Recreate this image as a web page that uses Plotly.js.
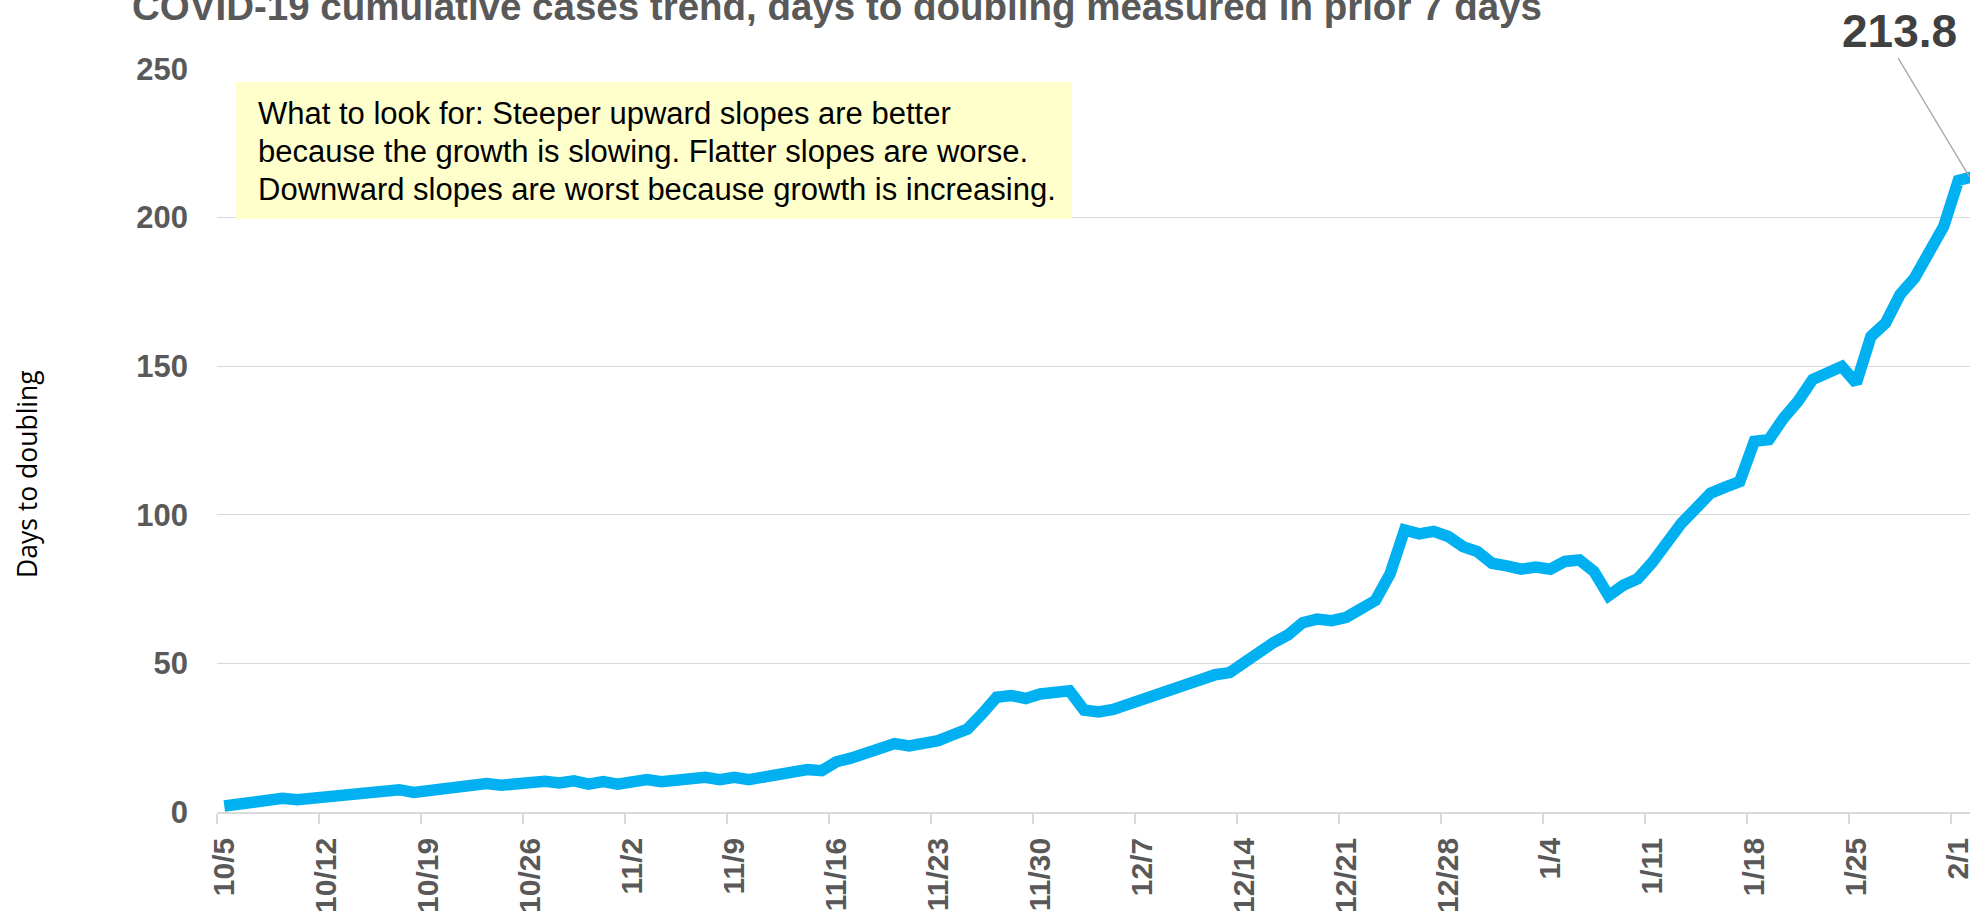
<!DOCTYPE html>
<html>
<head>
<meta charset="utf-8">
<script src="https://cdn.plot.ly/plotly-3.0.1.min.js"></script>
<style>
  html, body { margin: 0; padding: 0; background: #ffffff; overflow: hidden; }
  #chart { width: 1970px; height: 913px; }
</style>
</head>
<body>
<div id="chart"></div>
<script>
// ---- Data ----
const dates = [
  "10/5","10/6","10/7","10/8","10/9","10/10","10/11","10/12","10/13","10/14","10/15","10/16","10/17","10/18","10/19","10/20","10/21","10/22","10/23","10/24","10/25","10/26","10/27","10/28","10/29","10/30","10/31",
  "11/1","11/2","11/3","11/4","11/5","11/6","11/7","11/8","11/9","11/10","11/11","11/12","11/13","11/14","11/15","11/16","11/17","11/18","11/19","11/20","11/21","11/22","11/23","11/24","11/25","11/26","11/27","11/28","11/29","11/30",
  "12/1","12/2","12/3","12/4","12/5","12/6","12/7","12/8","12/9","12/10","12/11","12/12","12/13","12/14","12/15","12/16","12/17","12/18","12/19","12/20","12/21","12/22","12/23","12/24","12/25","12/26","12/27","12/28","12/29","12/30","12/31",
  "1/1","1/2","1/3","1/4","1/5","1/6","1/7","1/8","1/9","1/10","1/11","1/12","1/13","1/14","1/15","1/16","1/17","1/18","1/19","1/20","1/21","1/22","1/23","1/24","1/25","1/26","1/27","1/28","1/29","1/30","1/31",
  "2/1","2/2"
];

const daysToDoubling = [
  2.0, 2.6, 3.2, 3.8, 4.6, 4.1, 4.6, 5.2, 5.9, 5.6,
  6.4, 6.9, 7.5, 6.6, 7.2, 8.0, 8.4, 8.9, 9.6, 9.0,
  9.7, 9.9, 10.3, 9.8, 10.5, 9.4, 10.2, 9.4, 10.0, 10.9,
  10.2, 10.6, 11.1, 11.7, 10.9, 11.7, 10.9, 11.9, 12.6, 13.2,
  14.3, 13.9, 16.9, 18.1, 19.5, 21.2, 23.0, 22.2, 22.8, 24.0,
  26.0, 27.9, 33.0, 38.6, 39.2, 38.2, 39.7, 40.3, 40.8, 34.3,
  33.7, 34.5, 36.2, 38.2, 39.9, 41.2, 43.5, 45.0, 46.2, 46.9,
  50.3, 54.0, 57.0, 59.6, 63.7, 64.9, 64.4, 65.5, 68.0, 71.2,
  80.1, 94.9, 93.6, 94.4, 92.7, 89.3, 87.6, 83.7, 82.8, 81.7,
  82.4, 81.7, 84.3, 84.8, 80.9, 72.8, 76.3, 78.5, 84.0, 91.0,
  97.2, 102.2, 107.3, 109.3, 111.2, 124.7, 125.3, 132.5, 138.2, 145.5,
  147.7, 149.9, 144.3, 160.0, 164.5, 174.1, 179.7, 187.5, 197.1, 212.5,
  213.8
];

const yTickVals = [0, 50, 100, 150, 200, 250];

const chartTitle = "COVID-19 cumulative cases trend, days to doubling measured in prior 7 days";
const yTitle = "Days to doubling";
const noteLines = [
  "What to look for: Steeper upward slopes are better",
  "because the growth is slowing. Flatter slopes are worse.",
  "Downward slopes are worst because growth is increasing."
];
const lastIndex = daysToDoubling.length - 1;
const lastLabel = daysToDoubling[lastIndex].toFixed(1);

// ---- Layout helpers ----
const W = 1970, H = 913;
const M = { l: 217, r: 0, t: 69, b: 101 };
const PW = W - M.l - M.r, PH = H - M.t - M.b;
const px2x = p => (p - M.l) / PW;      // page px -> paper x
const py2y = p => (H - M.b - p) / PH;  // page px -> paper y

const FONT = "Liberation Sans, Arial, Helvetica, sans-serif";
const GRID = "#d9d9d9";
const LABEL = "#595959";

const trace = {
  type: "scatter",
  mode: "lines",
  x: dates,
  y: daysToDoubling,
  line: { color: "#00B0F0", width: 11.5 },
  hoverinfo: "skip",
  cliponaxis: true
};

const noteAnnotations = noteLines.map((t, i) => ({
  xref: "paper", yref: "paper",
  x: px2x(256), y: py2y(133 + i * 37.8),
  xanchor: "left", yanchor: "bottom",
  text: t, showarrow: false,
  font: { family: FONT, size: 31, color: "#000000" }
}));

// x position of the label anchor: right edge region of the visible plot
const labelX = 119.75;

const layout = {
  width: W, height: H,
  margin: M,
  paper_bgcolor: "#ffffff",
  plot_bgcolor: "#ffffff",
  showlegend: false,
  title: {
    text: chartTitle,
    xref: "container", yref: "container",
    x: 132 / W, xanchor: "left",
    y: 1 - 20 / H, yanchor: "bottom",
    font: { family: FONT, size: 38.5, color: LABEL, weight: "bold" }
  },
  xaxis: {
    type: "category",
    range: [-0.5, -0.5 + 120.3],
    tickmode: "linear", tick0: 0, dtick: 7,
    tickson: "boundaries",
    ticks: "outside", ticklen: 10, tickwidth: 1.5, tickcolor: GRID,
    showline: true, linecolor: GRID, linewidth: 1.8,
    showgrid: false, zeroline: false,
    tickangle: -90,
    ticklabelstandoff: 12,
    tickfont: { family: FONT, size: 30, color: LABEL, weight: "bold" },
    fixedrange: true
  },
  yaxis: {
    range: [0, 250],
    tickmode: "array", tickvals: yTickVals,
    ticks: "", showline: false,
    showgrid: true, gridcolor: GRID, gridwidth: 1.3,
    zeroline: false,
    ticklabelstandoff: 28,
    tickfont: { family: FONT, size: 31, color: LABEL, weight: "bold" },
    fixedrange: true
  },
  shapes: [{
    type: "rect", xref: "paper", yref: "paper", layer: "above",
    x0: px2x(236), x1: px2x(1072), y0: py2y(219), y1: py2y(82),
    fillcolor: "#FFFFCC", line: { width: 0 }
  }],
  annotations: [
    {
      xref: "paper", yref: "paper",
      x: px2x(27), y: py2y(474),
      text: yTitle, textangle: -90, showarrow: false,
      xanchor: "center", yanchor: "middle",
      font: { family: "Open Sans, Noto Sans, sans-serif", size: 26.5, color: "#000000" }
    },
    // leader line
    {
      xref: "x", yref: "y",
      x: labelX, y: daysToDoubling[lastIndex],
      text: "",
      showarrow: true, arrowhead: 0, arrowwidth: 1.3, arrowcolor: "#a6a6a6",
      standoff: 0, startstandoff: 0,
      axref: "pixel", ayref: "pixel",
      ax: -72, ay: -120
    },
    // value label
    {
      xref: "x", yref: "y",
      x: labelX, y: daysToDoubling[lastIndex],
      text: lastLabel, showarrow: false,
      xanchor: "center", yanchor: "middle",
      xshift: -70, yshift: 146,
      font: { family: FONT, size: 46, color: "#404040", weight: "bold" }
    }
  ].concat(noteAnnotations)
};

Plotly.newPlot("chart", [trace], layout, { displayModeBar: false, staticPlot: true, responsive: false });
</script>
</body>
</html>
